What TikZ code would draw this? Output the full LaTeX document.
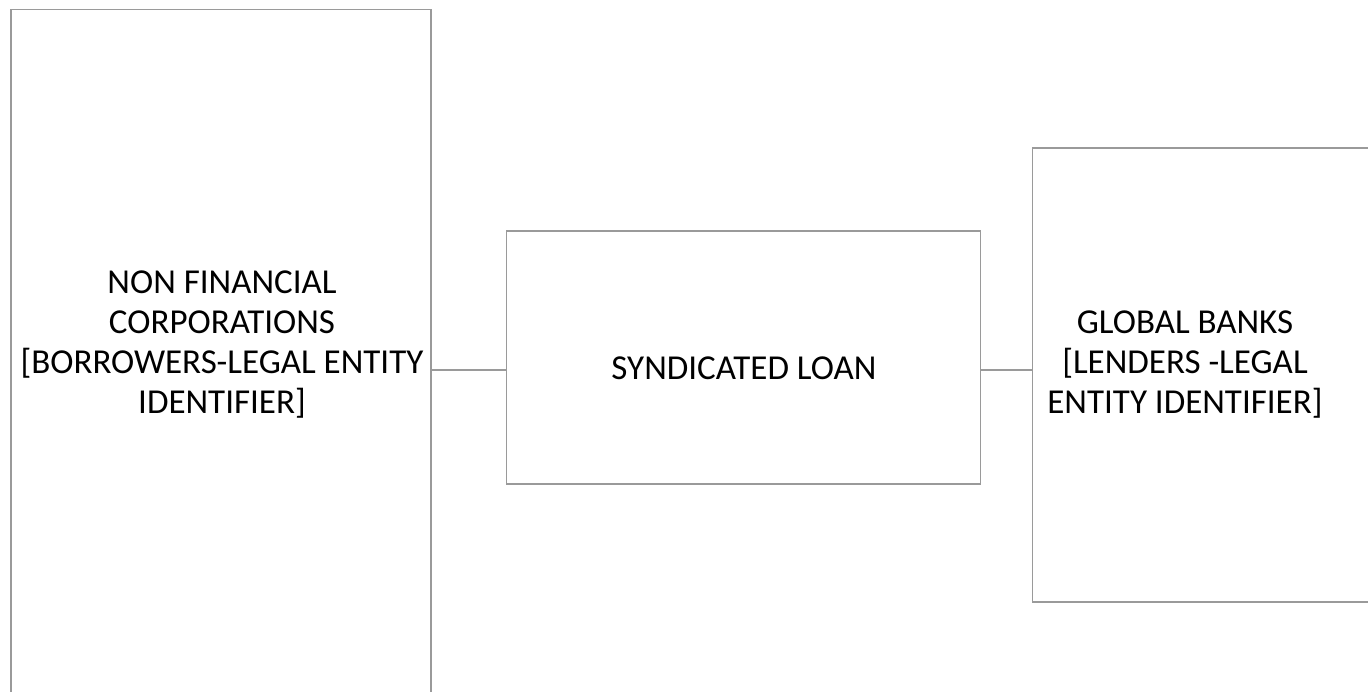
\documentclass[tikz,border=0pt]{standalone}
\usepackage{fontspec}
\setmainfont{Carlito}
\usetikzlibrary{positioning,calc}
\definecolor{boxgray}{HTML}{9A9A9A}

\begin{document}
\begin{tikzpicture}[x=1pt,y=-1pt,
    box/.style={draw=boxgray,line width=1.8pt,inner sep=0pt},
    lbl/.style={align=center,font=\fontsize{35}{40}\selectfont},
    link/.style={draw=boxgray,line width=1.8pt}]
  \useasboundingbox (0,0) rectangle (1368,691);
  \clip (0,0) rectangle (1368,691);
  % boxes
  \node[box,minimum width=420pt,minimum height=720pt,anchor=north west] (borrow) at (10,8.5) {};
  \node[box,minimum width=474pt,minimum height=253pt,anchor=north west] (loan) at (505.5,230) {};
  \node[box,minimum width=360pt,minimum height=454pt,anchor=north west] (banks) at (1031.5,147) {};
  % texts
  \node[lbl] (borrowtxt) at (222,345) {NON FINANCIAL\\CORPORATIONS\\{}[BORROWERS-LEGAL ENTITY\\IDENTIFIER]};
  \node[lbl] (loantxt) at (744,368) {SYNDICATED LOAN};
  \node[lbl] (bankstxt) at (1185,365) {GLOBAL BANKS\\{}[LENDERS -LEGAL\\ENTITY IDENTIFIER]};
  % links
  \draw[link] ([yshift=-12.5pt]loan.west) -- ([yshift=-12.5pt]loan.west -| borrow.east);
  \draw[link] ([yshift=-12.5pt]loan.east) -- ([yshift=-12.5pt]loan.east -| banks.west);
\end{tikzpicture}
\end{document}
